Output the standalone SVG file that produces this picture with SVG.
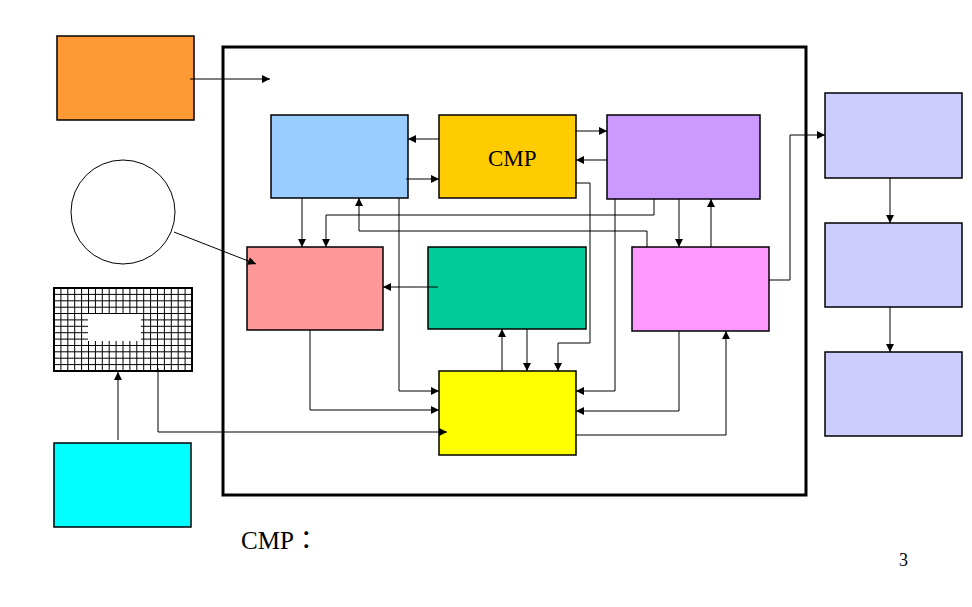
<svg xmlns="http://www.w3.org/2000/svg" width="972" height="607" viewBox="0 0 972 607">
<style>
.n{stroke:#000;stroke-width:1.5}
.c path{fill:none;stroke:#000;stroke-width:1;marker-end:url(#a)}
.t{font-family:"Liberation Serif","Noto Sans CJK TC",serif;fill:#000}
</style>
<defs>
<marker id="a" viewBox="0 0 10 10" refX="10" refY="5" markerWidth="9" markerHeight="8" orient="auto" markerUnits="userSpaceOnUse"><path d="M0,0 L10,5 L0,10z" fill="#000"/></marker>
</defs>
<rect width="972" height="607" fill="#fff"/>
<rect id="frame" x="223" y="47" width="583" height="448" fill="none" stroke="#000" stroke-width="3"/>
<g id="orange"><rect class="n" x="57" y="36" width="137" height="84" fill="#FF9933"/></g>
<g id="circle"><circle cx="123" cy="212" r="52" fill="#fff" stroke="#000" stroke-width="1"/></g>
<g id="grid">
<rect x="54" y="288" width="138" height="83" fill="#fff"/>
<path stroke="#000" stroke-width="1" fill="none" d="M60.9,288V371M67.8,288V371M74.7,288V371M81.6,288V371M88.5,288V371M95.4,288V371M102.3,288V371M109.2,288V371M116.1,288V371M123,288V371M129.9,288V371M136.8,288V371M143.7,288V371M150.6,288V371M157.5,288V371M164.4,288V371M171.3,288V371M178.2,288V371M185.1,288V371M54,294.4H192M54,300.8H192M54,307.2H192M54,313.5H192M54,319.9H192M54,326.3H192M54,332.7H192M54,339.1H192M54,345.5H192M54,351.8H192M54,358.2H192M54,364.6H192"/>
<rect x="88" y="314" width="53" height="27" fill="#fff"/>
<rect x="54" y="288" width="138" height="83" fill="none" stroke="#000" stroke-width="2"/>
</g>
<g id="cyan"><rect class="n" x="54" y="443" width="137" height="84" fill="#00FFFF"/></g>
<g id="blue"><rect class="n" x="271" y="115" width="137" height="83" fill="#99CCFF"/></g>
<g id="cmp"><rect class="n" x="439" y="115" width="137" height="83" fill="#FFCC00"/><text class="t" x="488" y="166" font-size="23">CMP</text></g>
<g id="purple"><rect class="n" x="607" y="115" width="153" height="84" fill="#CC99FF"/></g>
<g id="salmon"><rect class="n" x="247" y="247" width="136" height="83" fill="#FF9999"/></g>
<g id="green"><rect class="n" x="428" y="247" width="158" height="82" fill="#00CC99"/></g>
<g id="magenta"><rect class="n" x="632" y="247" width="137" height="84" fill="#FF99FF"/></g>
<g id="yellow"><rect class="n" x="439" y="371" width="137" height="84" fill="#FFFF00"/></g>
<g id="r1"><rect class="n" x="825" y="93" width="137" height="85" fill="#CCCCFF"/></g>
<g id="r2"><rect class="n" x="825" y="223" width="137" height="84" fill="#CCCCFF"/></g>
<g id="r3"><rect class="n" x="825" y="352" width="137" height="84" fill="#CCCCFF"/></g>
<g class="c" id="connectors">
<path d="M190,79H270"/>
<path d="M174,232L256,264"/>
<path d="M118,440V372"/>
<path d="M158,368V432H447"/>
<path d="M439,139H408"/>
<path d="M406,179H439"/>
<path d="M575,131H607"/>
<path d="M607,160H576"/>
<path d="M302,198V247"/>
<path d="M654,199V215H326V247"/>
<path d="M647,247V231H359V198"/>
<path d="M399,198V391H439"/>
<path d="M310,330V410H439"/>
<path d="M576,183H590V343H558V371"/>
<path d="M615,199V391H576"/>
<path d="M679,199V247"/>
<path d="M711,247V199"/>
<path d="M679,331V411H576"/>
<path d="M576,435H726V331"/>
<path d="M502,371V329"/>
<path d="M527,329V371"/>
<path d="M438,287H383"/>
<path d="M769,280H790V135H825"/>
<path d="M890,178V223"/>
<path d="M890,307V352"/>
</g>
<text class="t" x="241" y="549" font-size="25">CMP：</text>
<text class="t" x="899" y="566" font-size="18">3</text>
</svg>
